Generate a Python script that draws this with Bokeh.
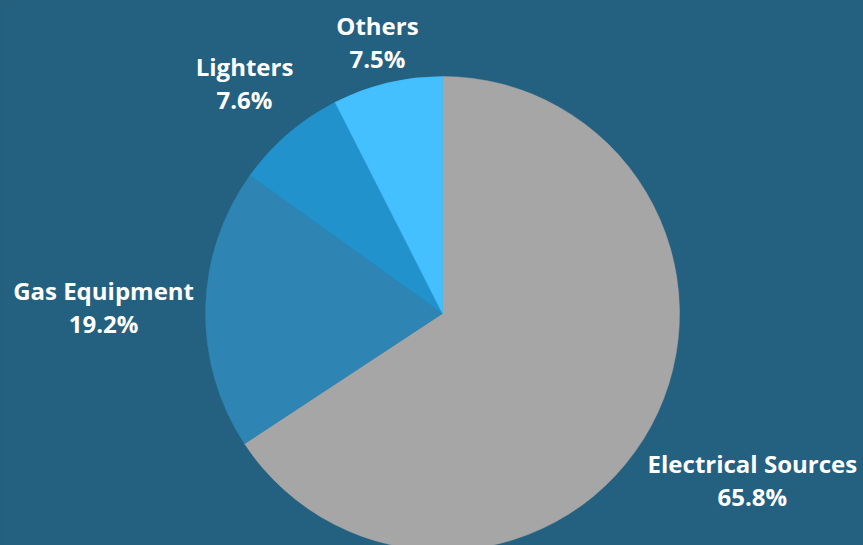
import math
from bokeh.plotting import figure
from bokeh.models import Range1d, ColumnDataSource, GlobalInlineStyleSheet
from bokeh.core.properties import value
from bokeh.embed import file_html
from bokeh.resources import INLINE

# ---- data ----
categories = ["Electrical Sources", "Gas Equipment", "Lighters", "Others"]
shares = [65.8, 19.2, 7.6, 7.5]
colors = ["#a6a6a6", "#2e85b3", "#2292cd", "#44bfff"]

BG = "#24607f"
W, H = 863, 545
# data units == screen pixels of the 863x545 window (y measured upward)
cx, cy, R = 442, 545 - 313, 237
label_dist = [352, 339, 304, 279]

total = sum(shares)
starts, ends, mids = [], [], []
cum = 0.0
for s in shares:
    a0 = math.pi / 2 - 2 * math.pi * (cum + s) / total
    a1 = math.pi / 2 - 2 * math.pi * cum / total
    starts.append(a0)
    ends.append(a1)
    mids.append((a0 + a1) / 2)
    cum += s

lx = [cx + d * math.cos(m) for d, m in zip(label_dist, mids)]
ly = [cy + d * math.sin(m) for d, m in zip(label_dist, mids)]

src = ColumnDataSource(dict(
    cat=categories, share=shares, color=colors,
    start=starts, end=ends,
    lx=lx, ly_name=[y + 16.5 for y in ly], ly_pct=[y - 16.5 for y in ly],
    pct=[f"{v:.1f}%" for v in shares],
))

p = figure(width=W, height=H, output_backend="svg", toolbar_location=None,
           x_range=Range1d(0, W), y_range=Range1d(0, H),
           min_border=0, background_fill_color=BG, border_fill_color=BG,
           outline_line_color=None)
p.axis.visible = False
p.grid.visible = False

p.wedge(x=cx, y=cy, radius=R, start_angle="start", end_angle="end",
        fill_color="color", line_color="color", line_width=0.5, source=src)

common = dict(text_color="white", text_font=value("Open Sans"),
              text_font_style="bold", text_font_size="24px",
              text_align="center", text_baseline="middle", source=src)
p.text(x="lx", y="ly_name", text="cat", **common)
p.text(x="lx", y="ly_pct", text="pct", **common)

p.stylesheets = [GlobalInlineStyleSheet(css=f"html, body {{ background: {BG}; }}")]

open("out.html", "w").write(file_html(p, INLINE))
